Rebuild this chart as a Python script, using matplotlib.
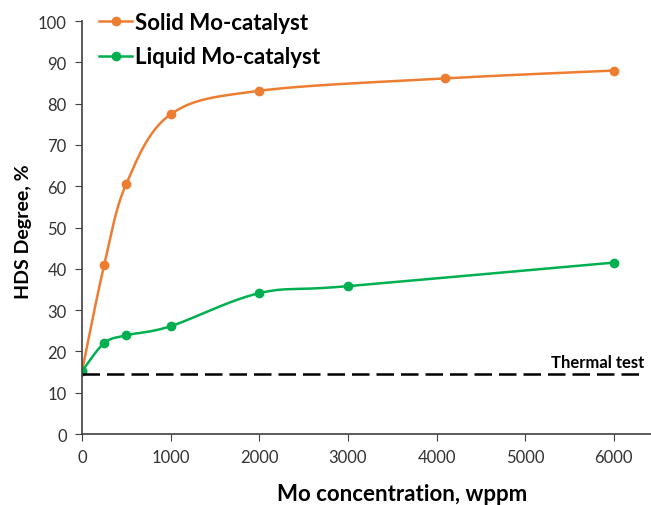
import matplotlib
matplotlib.use('Agg')
import matplotlib.pyplot as plt
import numpy as np

x_solid = [0, 250, 500, 1000, 2000, 4100, 6000]
y_solid = [15.2, 40.9, 60.6, 77.4, 83.1, 86.1, 88.0]
x_liquid = [0, 250, 500, 1000, 2000, 3000, 6000]
y_liquid = [15.2, 22.0, 23.9, 26.1, 34.1, 35.8, 41.5]
thermal = 14.6

XMAX = 6420
YMAX = 100

plt.rcParams['font.family'] = ['Lato', 'DejaVu Sans']


def smooth(xs, ys, n=40):
    # Excel-like smoothed line: cubic Bezier with Catmull-Rom control points
    px = np.array(xs, float) / XMAX
    py = np.array(ys, float) / YMAX * 0.78
    pts = np.column_stack([px, py])
    out = []
    for i in range(len(pts) - 1):
        p0 = pts[i - 1] if i > 0 else pts[i]
        p1 = pts[i]
        p2 = pts[i + 1]
        p3 = pts[i + 2] if i + 2 < len(pts) else pts[i + 1]
        c1 = p1 + (p2 - p0) / 6
        c2 = p2 - (p3 - p1) / 6
        t = np.linspace(0, 1, n)[:, None]
        seg = (1 - t) ** 3 * p1 + 3 * (1 - t) ** 2 * t * c1 + 3 * (1 - t) * t ** 2 * c2 + t ** 3 * p2
        out.append(seg)
    out = np.vstack(out)
    return out[:, 0] * XMAX, out[:, 1] / 0.78 * YMAX


fig = plt.figure(figsize=(6.51, 5.06), dpi=100)
ax = fig.add_axes([82 / 651, 1 - 435 / 506, (651 - 82) / 651, (435 - 22) / 506])

orange = '#ED7D31'
green = '#00B050'

sx, sy = smooth(x_solid, y_solid)
ax.plot(sx, sy, color=orange, lw=1.8)
ax.plot(x_solid, y_solid, 'o', color=orange, ms=6)
lx, ly = smooth(x_liquid, y_liquid)
ax.plot(lx, ly, color=green, lw=1.8)
ax.plot(x_liquid, y_liquid, 'o', color=green, ms=6)

ax.plot([0, 6340], [thermal, thermal], color='black', lw=1.8, dashes=(7, 2.8))
ax.text(6340, thermal + 1.0, 'Thermal test', ha='right', va='bottom',
        fontsize=12, fontweight='bold')

# legend handles
ax.plot([], [], '-o', color=orange, lw=1.8, ms=6, label='Solid Mo-catalyst')
ax.plot([], [], '-o', color=green, lw=1.8, ms=6, label='Liquid Mo-catalyst')
leg = ax.legend(loc='upper left', bbox_to_anchor=(-0.005, 1.07), frameon=False,
                prop={'size': 16, 'weight': 'bold'}, handlelength=1.5,
                handletextpad=0.1, labelspacing=0.6)

ax.set_xlim(0, XMAX)
ax.set_ylim(0, YMAX)
ax.set_xticks(range(0, 7000, 1000))
ax.set_yticks(range(0, 110, 10))
ax.spines['top'].set_visible(False)
ax.spines['right'].set_visible(False)
for s in ['left', 'bottom']:
    ax.spines[s].set_color('#404040')
    ax.spines[s].set_linewidth(1.2)
ax.tick_params(axis='both', direction='out', length=5, color='#404040',
               labelsize=12, labelcolor='#333333', pad=6)

fig.text(402 / 651, 1 - 495 / 506, 'Mo concentration, wppm', ha='center', va='center',
         fontsize=16, fontweight='bold')
fig.text(24 / 651, 1 - 232 / 506, 'HDS Degree, %', ha='center', va='center',
         rotation=90, fontsize=14, fontweight='bold')

fig.savefig('out.png', dpi=100)
